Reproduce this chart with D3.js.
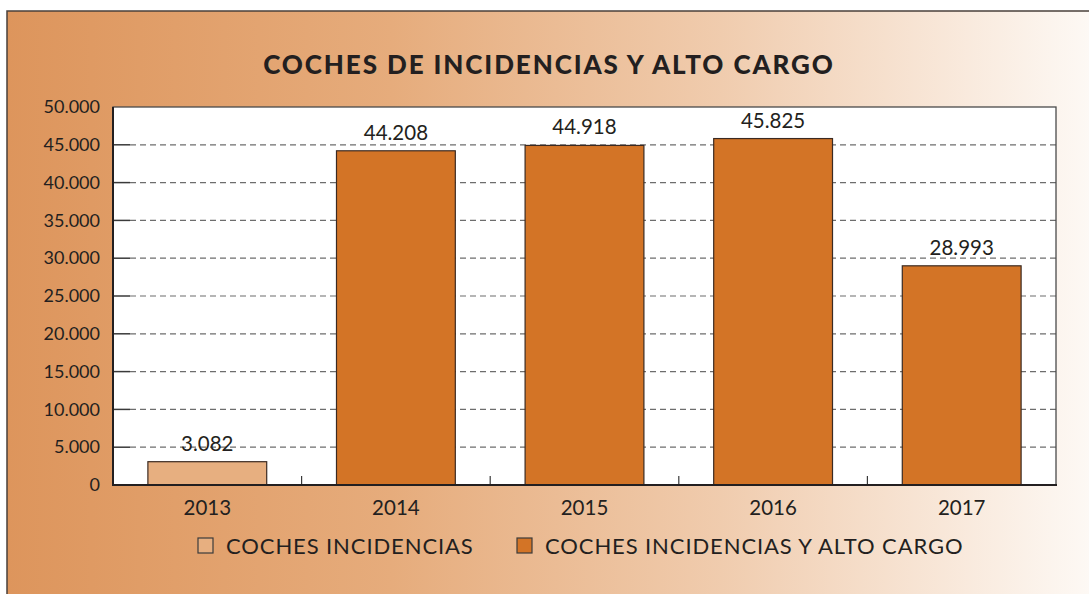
<!DOCTYPE html>
<html><head><meta charset="utf-8">
<script src="https://cdn.jsdelivr.net/npm/d3@7"></script>
<style>
html,body{margin:0;padding:0;background:#fff;}
svg{display:block;font-family:Lato,"Open Sans",sans-serif;}
</style></head>
<body>
<svg id="chart" width="1089" height="594"></svg>
<script>
const categories = ["2013","2014","2015","2016","2017"];
const seriesNames = ["COCHES INCIDENCIAS","COCHES INCIDENCIAS Y ALTO CARGO"];
const incidencias = [3082, null, null, null, null];
const incidenciasAltoCargo = [null, 44208, 44918, 45825, 28993];
const yTicks = [0,5000,10000,15000,20000,25000,30000,35000,40000,45000,50000];
const title = "COCHES DE INCIDENCIAS Y ALTO CARGO";

const svg = d3.select("#chart");
const defs = svg.append("defs");
const grad = defs.append("linearGradient").attr("id","bg").attr("x1","0%").attr("x2","100%").attr("y1","0%").attr("y2","0%");
grad.append("stop").attr("offset","0%").attr("stop-color","#DD955C");
grad.append("stop").attr("offset","35%").attr("stop-color","#E6AC7C");
grad.append("stop").attr("offset","65%").attr("stop-color","#F0CCAE");
grad.append("stop").attr("offset","100%").attr("stop-color","#FEFBF8");

svg.append("rect").attr("x",7).attr("y",11).attr("width",1100).attr("height",600)
  .attr("fill","url(#bg)").attr("stroke","#4a403b").attr("stroke-width",1.5);

const m = {left:113, right:1056, top:107, bottom:485};
const x = d3.scaleBand().domain(categories).range([m.left,m.right]).paddingInner(0.37).paddingOuter(0.185);
const xOuter = d3.scaleBand().domain(categories).range([m.left,m.right]);
const y = d3.scaleLinear().domain([0,50000]).range([m.bottom,m.top]);
const fmt = v => d3.format(",")(v).replace(/,/g,".");

svg.append("text").attr("x",549).attr("y",74).attr("text-anchor","middle")
  .attr("font-size",26).attr("font-weight",900).attr("letter-spacing",1.9)
  .attr("fill","#231f20").text(title);

// plot background
svg.append("rect").attr("x",m.left).attr("y",m.top).attr("width",m.right-m.left).attr("height",m.bottom-m.top)
  .attr("fill","#fff");

// gridlines
const gridTicks = yTicks.filter(t => t>0 && t<50000);
svg.append("g").selectAll("line").data(gridTicks).join("line")
  .attr("x1",m.left+17).attr("x2",m.right).attr("y1",d=>y(d)).attr("y2",d=>y(d))
  .attr("stroke","#6d6d6d").attr("stroke-width",1.2).attr("stroke-dasharray","6,4");

// y axis
const yAxis = d3.axisLeft(y).tickValues(yTicks).tickFormat(fmt).tickSize(0).tickPadding(13);
const gy = svg.append("g").attr("transform",`translate(${m.left},0)`).call(yAxis);
gy.select(".domain").remove();
gy.selectAll("text").attr("font-size",18).attr("fill","#231f20").attr("font-family","Lato");
svg.append("g").selectAll("line").data(gridTicks).join("line")
  .attr("x1",m.left).attr("x2",m.left+17).attr("y1",d=>y(d)).attr("y2",d=>y(d))
  .attr("stroke","#3a3a3a").attr("stroke-width",1.5);

// x ticks between categories (inside)
svg.append("g").selectAll("line").data(categories.slice(1)).join("line")
  .attr("x1",d=>xOuter(d)).attr("x2",d=>xOuter(d)).attr("y1",m.bottom).attr("y2",m.bottom-9)
  .attr("stroke","#3a3a3a").attr("stroke-width",1.2);

// frame top/right
svg.append("rect").attr("x",m.left).attr("y",m.top).attr("width",m.right-m.left).attr("height",m.bottom-m.top)
  .attr("fill","none").attr("stroke","#4a4a4a").attr("stroke-width",1.3);

// bars
const s1 = categories.map((c,i)=>({c,v:incidencias[i]})).filter(d=>d.v!=null);
const s2 = categories.map((c,i)=>({c,v:incidenciasAltoCargo[i]})).filter(d=>d.v!=null);
const colors = ["#E7AF80","#D37426"];
[s1,s2].forEach((s,k)=>{
  const g = svg.append("g");
  g.selectAll("rect").data(s).join("rect")
    .attr("x",d=>x(d.c)).attr("width",x.bandwidth())
    .attr("y",d=>y(d.v)).attr("height",d=>y(0)-y(d.v))
    .attr("fill",colors[k]).attr("stroke","#3b2a22").attr("stroke-width",1.2);
  g.selectAll("text").data(s).join("text")
    .attr("x",d=>x(d.c)+x.bandwidth()/2).attr("y",d=>y(d.v)-11)
    .attr("text-anchor","middle").attr("font-size",20.5).attr("fill","#231f20").text(d=>fmt(d.v));
});

// axis lines
svg.append("line").attr("x1",m.left).attr("x2",m.left).attr("y1",m.top).attr("y2",m.bottom)
  .attr("stroke","#231f20").attr("stroke-width",2);
svg.append("line").attr("x1",m.left-1).attr("x2",m.right+1).attr("y1",m.bottom).attr("y2",m.bottom)
  .attr("stroke","#231f20").attr("stroke-width",2);

// x labels
const xAxis = d3.axisBottom(xOuter).tickSize(0).tickPadding(15);
const gx = svg.append("g").attr("transform",`translate(0,${m.bottom})`).call(xAxis);
gx.select(".domain").remove();
gx.selectAll("text").attr("font-size",20.5).attr("fill","#231f20").attr("font-family","Lato");

// legend
const legend = svg.append("g");
const legX = [198, 517];
seriesNames.forEach((n,i)=>{
  legend.append("rect").attr("x",legX[i]).attr("y",538).attr("width",15).attr("height",15)
    .attr("fill",colors[i]).attr("stroke","#3b3b3b").attr("stroke-width",1.2);
  legend.append("text").attr("x",legX[i]+28).attr("y",554).attr("font-size",22)
    .attr("letter-spacing",0.9).attr("fill","#231f20").text(n);
});
</script>
</body></html>
